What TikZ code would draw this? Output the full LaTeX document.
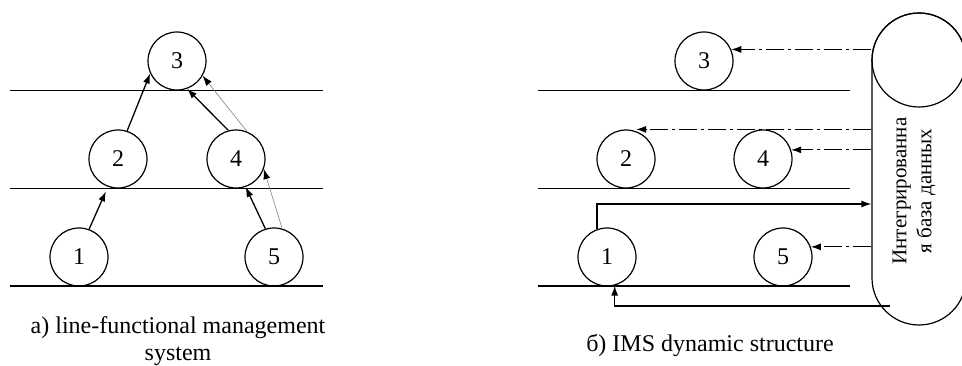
\documentclass[tikz,border=0pt]{standalone}
\usepackage{fontspec}
\setmainfont{Liberation Serif}
\usetikzlibrary{arrows.meta}

\begin{document}
\begin{tikzpicture}[x = 1pt, y = -1pt,
unit/.style = {circle, draw, line width = 1.2pt, minimum size = 58pt, inner sep = 0pt, font = \fontsize{24}{24}\selectfont},
link/.style = {-{Latex[length = 10pt, width = 7pt]}, line width = 1.3pt},
thin link/.style = {-{Latex[length = 10pt, width = 7pt, color = black]}, line width = 0.6pt, gray},
query/.style = {-{Latex[length = 10pt, width = 7pt]}, line width = 1.1pt, dash pattern = on 18pt off 4pt on 3pt off 4pt},
level/.style = {line width = 1.5pt},
caption/.style = {font = \fontsize{24}{27}\selectfont, align = center}]
\clip (0,0) rectangle (962,366);

\foreach \y in {90.7, 188.7, 286} {
\draw[level] (10,\y) -- (323,\y);
\draw[level] (538,\y) -- (850,\y);
}

\node[unit] (C3) at (177,61) {3};
\node[unit] (C2) at (118,159) {2};
\node[unit] (C4) at (236,159) {4};
\node[unit] (C1) at (79,257) {1};
\node[unit] (C5) at (274,257) {5};

\draw[link, shorten > = 5pt] (C1.70) -- (C2.250);
\draw[link] (C2.72) -- (C3.205);
\draw[link] (C4.105) -- (C3.290);
\draw[thin link] (C4.68) -- (C3.330);
\draw[link] (C5.107) -- (C4.289);
\draw[thin link] (C5.74) -- (C4.340);

\node[caption] (CA) at (178,341) {a) line-functional management\\system};

\node[unit] (D3) at (704,61) {3};
\node[unit] (D2) at (626,159) {2};
\node[unit] (D4) at (763,159) {4};
\node[unit] (D1) at (607,257) {1};
\node[unit] (D5) at (783,257) {5};

\node[draw, line width = 1.2pt, rounded corners = 47pt, minimum width = 94pt, minimum height = 312pt] (DB) at (919,169) {};
\node[unit, minimum size = 94pt] (DBTOP) at (919,60) {};
\node[rotate = 90, align = center, font = \fontsize{21}{25}\selectfont] (DBT) at (914,191) {Интегрированна\\я база данных};
\coordinate (DBIN) at (890,306);

\draw[query] (DB.west |- D3.23) -- (D3.23);
\draw[query] (DB.west |- D4.north) -- (D2.70 |- D4.north);
\draw[query] (DB.west |- D4.18) -- (D4.18);
\draw[query] (DB.west |- D5.20) -- (D5.20);
\draw[link] (D1.110) |- ([yshift = -35pt]DB.west);
\draw[link] (DBIN) -| (D1.285);

\node[caption, anchor = base] (CB) at (710,352) {б) IMS dynamic structure};
\end{tikzpicture}
\end{document}
